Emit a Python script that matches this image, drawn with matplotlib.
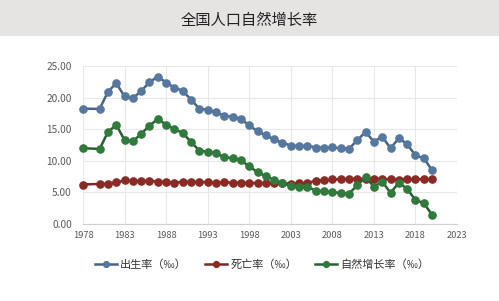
import numpy as np
import matplotlib.pyplot as plt
from matplotlib.patches import Rectangle

plt.rcParams['font.family'] = ['Noto Sans CJK SC', 'DejaVu Sans']

years = [1978, 1980, 1981, 1982, 1983, 1984, 1985, 1986, 1987, 1988, 1989,
         1990, 1991, 1992, 1993, 1994, 1995, 1996, 1997, 1998, 1999,
         2000, 2001, 2002, 2003, 2004, 2005, 2006, 2007, 2008, 2009,
         2010, 2011, 2012, 2013, 2014, 2015, 2016, 2017, 2018, 2019, 2020]
birth = [18.25, 18.21, 20.91, 22.28, 20.19, 19.90, 21.04, 22.43, 23.33, 22.37, 21.58,
         21.06, 19.68, 18.24, 18.09, 17.70, 17.12, 16.98, 16.57, 15.64, 14.64,
         14.03, 13.38, 12.86, 12.41, 12.29, 12.40, 12.09, 12.10, 12.14, 11.95,
         11.90, 13.27, 14.57, 13.03, 13.83, 11.99, 13.57, 12.64, 10.86, 10.41, 8.52]
death = [6.25, 6.34, 6.36, 6.60, 6.90, 6.82, 6.78, 6.86, 6.72, 6.64, 6.54,
         6.67, 6.70, 6.64, 6.64, 6.49, 6.57, 6.56, 6.51, 6.50, 6.46,
         6.45, 6.43, 6.41, 6.40, 6.42, 6.51, 6.81, 6.93, 7.06, 7.08,
         7.11, 7.14, 7.13, 7.13, 7.12, 7.07, 7.04, 7.06, 7.08, 7.09, 7.07]
growth = [12.00, 11.87, 14.55, 15.68, 13.29, 13.08, 14.26, 15.57, 16.61, 15.73, 15.04,
          14.39, 12.98, 11.60, 11.45, 11.21, 10.55, 10.42, 10.06, 9.14, 8.18,
          7.58, 6.95, 6.45, 6.01, 5.87, 5.89, 5.28, 5.17, 5.08, 4.87,
          4.79, 6.13, 7.43, 5.90, 6.71, 4.93, 6.53, 5.58, 3.78, 3.32, 1.45]

series = [
    ('出生率（‰）', birth, '#56779f', '#4a6383'),
    ('死亡率（‰）', death, '#8a2a25', '#7a2a25'),
    ('自然增长率（‰）', growth, '#2f7a3c', '#2a5e33'),
]

fig = plt.figure(figsize=(4.99, 3.01), dpi=100)
fig.patches.append(Rectangle((0, 1 - 36 / 301), 1, 36 / 301, transform=fig.transFigure,
                             facecolor='#e6e3e3', edgecolor='none', zorder=0))
fig.text(0.5, 1 - 20 / 301, '全国人口自然增长率', ha='center', va='center',
         fontsize=11, color='#222222')

ax = fig.add_axes([83 / 499, 1 - 224 / 301, (457 - 83) / 499, (224 - 66) / 301])
for name, vals, mc, lc in series:
    ax.plot(years, vals, color=lc, lw=1.8, marker='o', markersize=5.2,
            markerfacecolor=mc, markeredgecolor=mc, label=name, clip_on=False, zorder=3)

ax.set_xlim(1978, 2023)
ax.set_ylim(0, 25)
ax.set_xticks(np.arange(1978, 2024, 5))
ax.set_yticks(np.arange(0, 26, 5))
ax.set_yticklabels([f'{v:.2f}' for v in np.arange(0, 26, 5)])
ax.grid(True, color='#e8e8e8', lw=0.8, zorder=0)
ax.set_axisbelow(True)
for s in ['top', 'right', 'left']:
    ax.spines[s].set_visible(False)
ax.spines['bottom'].set_color('#d0d0d0')
ax.tick_params(axis='both', length=0, colors='#595959')
ax.tick_params(axis='y', labelsize=7.3, pad=8)
ax.tick_params(axis='x', labelsize=6.7, pad=5)

fig.legend(loc='center', bbox_to_anchor=(0.525, 1 - 265 / 301), ncol=3, frameon=False,
           fontsize=8, handlelength=2.0, columnspacing=1.6, handletextpad=0.3,
           markerscale=0.8, labelcolor='#333333')

fig.savefig('out.png', dpi=100)
